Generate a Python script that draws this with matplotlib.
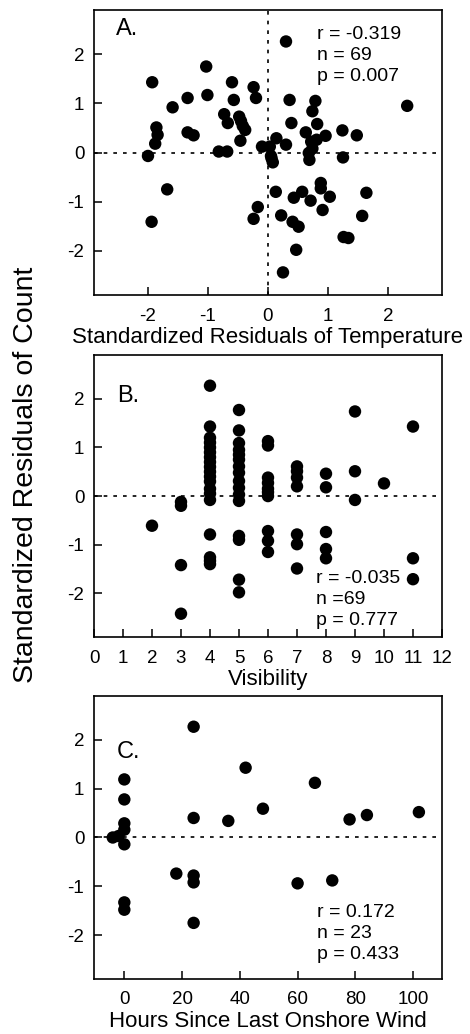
"""Standardized residuals of count vs temperature, visibility and wind (3 panels)"""
import matplotlib
matplotlib.use("Agg")
import matplotlib.pyplot as plt

plt.rcParams['font.family'] = ['Liberation Sans', 'DejaVu Sans']
plt.rcParams['axes.unicode_minus'] = False

# panel A: residuals of temperature vs residuals of count
temp_resid = [0.30, -1.03, -1.93, -0.60, -0.24, -0.20, -1.34, -1.01, -1.59, -0.57,
              0.36, 0.79, 0.74, 2.32, -0.73, -0.67, -0.48, -0.42, -0.38, -0.46,
              -1.86, -1.84, -1.88, -1.34, -1.24, 0.39, 0.82, 0.63, 0.72, 0.81,
              0.96, 1.24, 1.48, 0.14, -0.10, 0.03, 0.30, -0.82, -0.68, -2.00,
              0.05, 0.08, 0.68, 0.69, 1.25, -1.68, 0.13, 0.57, 0.43, 0.71,
              0.88, 0.88, 1.03, 1.64, -0.17, -0.24, 0.22, 0.91, 1.57, 0.41,
              0.51, -1.94, 1.26, 1.34, 0.47, 0.25, 0.06, 0.74, -0.45]
count_resid_a = [2.26, 1.75, 1.43, 1.43, 1.33, 1.11, 1.11, 1.17, 0.92, 1.07,
                 1.07, 1.05, 0.84, 0.95, 0.78, 0.60, 0.73, 0.54, 0.46, 0.24,
                 0.51, 0.36, 0.18, 0.41, 0.35, 0.60, 0.58, 0.41, 0.22, 0.26,
                 0.34, 0.45, 0.35, 0.29, 0.12, 0.12, 0.16, 0.02, 0.02, -0.07,
                 -0.07, -0.20, -0.01, -0.15, -0.10, -0.75, -0.80, -0.80, -0.92, -0.98,
                 -0.62, -0.73, -0.90, -0.82, -1.11, -1.35, -1.28, -1.17, -1.29, -1.41,
                 -1.51, -1.41, -1.72, -1.74, -1.98, -2.44, -0.12, 0.08, 0.64]

# panel B: visibility vs residuals of count
visibility = ([2] + [3] * 4 + [4] * 19 + [5] * 16 + [6] * 10 + [7] * 7
              + [8] * 5 + [9] * 3 + [10] + [11] * 3)
count_resid_b = ([-0.61]
                 + [-0.12, -0.20, -1.42, -2.42]
                 + [2.27, 1.43, 1.20, 1.10, 1.00, 0.90, 0.80, 0.70, 0.60, 0.50,
                    0.40, 0.30, 0.15, 0.05, -0.08, -0.79, -1.26, -1.33, -1.40]
                 + [1.77, 1.35, 1.09, 0.95, 0.85, 0.75, 0.61, 0.48, 0.31, 0.17,
                    0.03, -0.10, -0.82, -0.90, -1.72, -1.98]
                 + [1.13, 1.04, 0.38, 0.27, 0.15, 0.08, 0.00, -0.72, -0.92, -1.15]
                 + [0.61, 0.51, 0.38, 0.20, -0.79, -0.99, -1.49]
                 + [0.46, 0.18, -0.74, -1.09, -1.28]
                 + [1.74, 0.51, -0.08]
                 + [0.26]
                 + [1.43, -1.28, -1.71])

# panel C: hours since last onshore wind vs residuals of count
hours = [24, 0, 0, 0, 0, 0, -4, -2, 0, 0, 42, 66, 48, 24, 36, 78, 84, 102,
         18, 24, 24, 24, 60, 72]
count_resid_c = [2.27, 1.19, 0.78, 0.29, 0.16, -0.14, 0.00, 0.03, -1.33, -1.48,
                 1.43, 1.12, 0.59, 0.40, 0.34, 0.37, 0.46, 0.52,
                 -0.74, -0.78, -0.92, -1.75, -0.94, -0.88]

stats = ["r = -0.319\nn = 69\np = 0.007",
         "r = -0.035\nn =69\np = 0.777",
         "r = 0.172\nn = 23\np = 0.433"]

fig = plt.figure(figsize=(4.7, 10.34), dpi=100)
ax_a = fig.add_axes([0.2, 0.7147, 0.7404, 0.2756])
ax_b = fig.add_axes([0.2, 0.3839, 0.7404, 0.2727])
ax_c = fig.add_axes([0.2, 0.0532, 0.7404, 0.2737])

dots = dict(color='k', linewidth=1.2, dashes=(2.2, 3.6), zorder=1)


def style(ax):
    ax.set_ylim(-2.9, 2.9)
    ax.set_yticks([-2, -1, 0, 1, 2])
    ax.tick_params(direction='in', length=6, width=1.1, labelsize=13.5)
    ax.tick_params(axis='x', pad=9)
    ax.tick_params(axis='y', pad=7)
    for sp in ax.spines.values():
        sp.set_linewidth(1.2)
    ax.axhline(0, **dots)


for ax, x, y in [(ax_a, temp_resid, count_resid_a),
                 (ax_b, visibility, count_resid_b),
                 (ax_c, hours, count_resid_c)]:
    style(ax)
    ax.scatter(x, y, s=80, color='k', edgecolors='none', zorder=3)

ax_a.axvline(0, **dots)
ax_a.set_xlim(-2.9, 2.9)
ax_a.set_xticks([-2, -1, 0, 1, 2])
ax_a.set_xlabel("Standardized Residuals of Temperature", fontsize=16, labelpad=1.5)

ax_b.set_xlim(0, 12)
ax_b.set_xticks(range(0, 13))
ax_b.set_xlabel("Visibility", fontsize=16, labelpad=1.5)

ax_c.set_xlim(-10.5, 110)
ax_c.set_xticks([0, 20, 40, 60, 80, 100])
ax_c.set_xlabel("Hours Since Last Onshore Wind", fontsize=16, labelpad=1.5)

# panel letters and statistics
ax_a.text(0.063, 0.972, "A.", transform=ax_a.transAxes, fontsize=17, va='top')
ax_b.text(0.066, 0.894, "B.", transform=ax_b.transAxes, fontsize=17, va='top')
ax_c.text(0.065, 0.842, "C.", transform=ax_c.transAxes, fontsize=17, va='top')

ax_a.text(0.640, 0.945, stats[0], transform=ax_a.transAxes, fontsize=14,
          va='top', linespacing=1.32)
ax_b.text(0.637, 0.238, stats[1], transform=ax_b.transAxes, fontsize=14,
          va='top', linespacing=1.32)
ax_c.text(0.640, 0.265, stats[2], transform=ax_c.transAxes, fontsize=14,
          va='top', linespacing=1.32)

fig.text(0.0545, 0.5406, "Standardized Residuals of Count", rotation=90,
         fontsize=20.5, ha='center', va='center')

plt.savefig("out.png", dpi=100)
